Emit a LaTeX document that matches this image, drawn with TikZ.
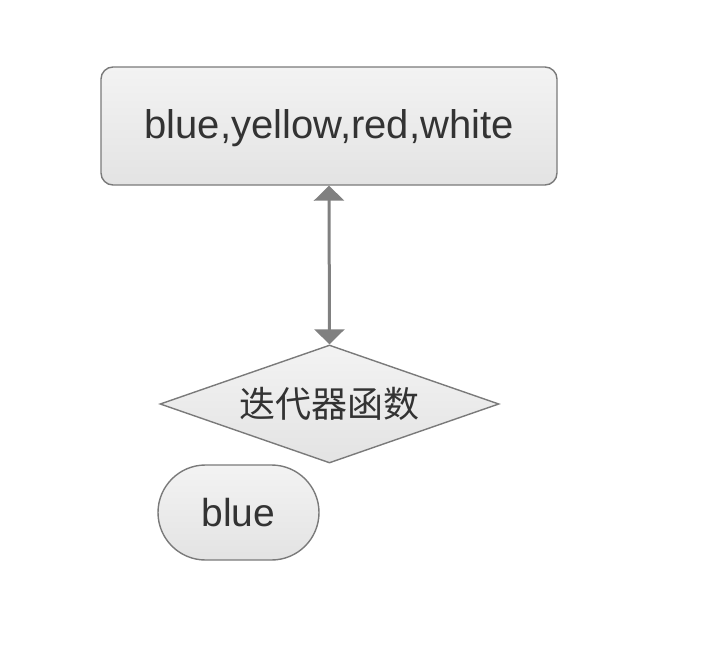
\documentclass[tikz,border=0pt]{standalone}
\usepackage{fontspec}
\setmainfont{Liberation Sans}
\newfontfamily\cjk{Noto Sans CJK SC}
\usetikzlibrary{shapes.geometric,arrows.meta}
\definecolor{bordergray}{HTML}{7A7A7A}
\definecolor{arrowgray}{HTML}{808080}
\definecolor{txt}{HTML}{333333}
\definecolor{topfill}{HTML}{F3F3F3}
\definecolor{botfill}{HTML}{E3E3E3}
\tikzset{
  shapebox/.style={draw=bordergray, line width=1.4pt, top color=topfill, bottom color=botfill, text=txt, inner sep=0pt},
  arr/.style={draw=arrowgray, line width=3pt, {Triangle[width=30pt,length=15pt]}-{Triangle[width=30pt,length=15pt]}}
}
\begin{document}
\begin{tikzpicture}[x=1pt,y=-1pt]
\useasboundingbox (0,0) rectangle (724,662);
\node[shapebox, rounded corners=12pt, minimum width=456pt, minimum height=118pt,
  font=\fontsize{40}{46}\selectfont, text depth=4pt] (top) at (329,126) {blue,yellow,red,white};
\node[shapebox, diamond, aspect=2.87, minimum width=339pt, minimum height=118pt,
  font=\cjk\fontsize{36}{42}\selectfont] (dia) at (329.5,404) {迭代器函数};
\node[shapebox, rounded corners=47.5pt, minimum width=161pt, minimum height=95pt,
  font=\fontsize{39}{44}\selectfont] (blue) at (238.5,512.5) {blue};
\draw[arr] (top.south) -- (dia.north);
\end{tikzpicture}
\end{document}
